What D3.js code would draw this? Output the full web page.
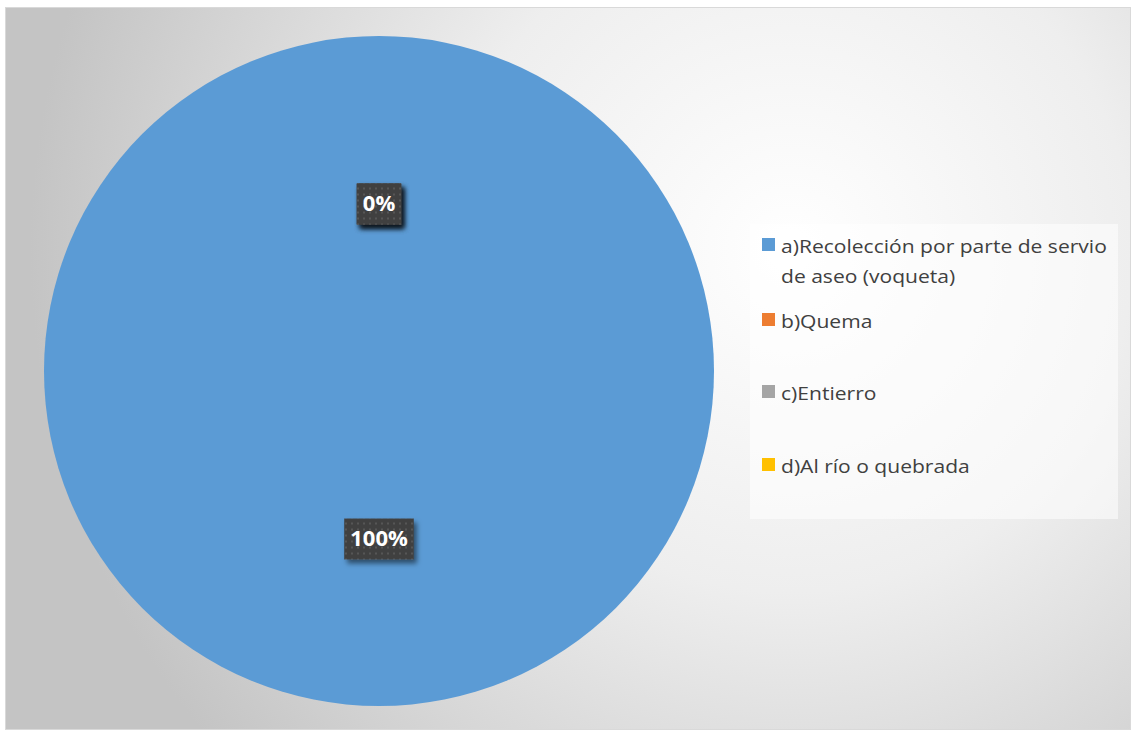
<!DOCTYPE html>
<html>
<head>
<meta charset="utf-8">
<script src="https://cdn.jsdelivr.net/npm/d3@7/dist/d3.min.js"></script>
<style>
  html, body { margin: 0; padding: 0; background: #fff; }
  svg { display: block; }
</style>
</head>
<body>
<svg id="chart" width="1133" height="732"></svg>
<script>
// data
var categories = ["a)Recolección por parte de servio de aseo (voqueta)", "b)Quema", "c)Entierro", "d)Al río o quebrada"]
var values = [100, 0, 0, 0]
var colors = ["#5b9bd5", "#ed7d31", "#a5a5a5", "#ffc000"]
// legend text broken in lines like the original
var legend_lines = [["a)Recolección por parte de servio", "de aseo (voqueta)"], ["b)Quema"], ["c)Entierro"], ["d)Al río o quebrada"]]

var svg = d3.select("#chart")
var defs = svg.append("defs")

// chart background: radial gray-white gradient
var bg = defs.append("radialGradient")
	.attr("id", "bg")
	.attr("gradientUnits", "userSpaceOnUse")
	.attr("cx", 790).attr("cy", 250).attr("r", 760)
bg.append("stop").attr("offset", "0").attr("stop-color", "#ffffff")
bg.append("stop").attr("offset", "0.45").attr("stop-color", "#eeeeee")
bg.append("stop").attr("offset", "1").attr("stop-color", "#c4c4c4")

// dotted texture used by the data label boxes
var pat = defs.append("pattern")
	.attr("id", "dots")
	.attr("patternUnits", "userSpaceOnUse")
	.attr("width", 6).attr("height", 6)
pat.append("rect").attr("width", 6).attr("height", 6).attr("fill", "#404040")
pat.append("rect").attr("x", 2).attr("y", 2).attr("width", 2).attr("height", 2).attr("fill", "#575757")

var shadow = defs.append("filter")
	.attr("id", "shadow")
	.attr("x", "-30%").attr("y", "-30%").attr("width", "160%").attr("height", "170%")
shadow.append("feDropShadow")
	.attr("dx", 3).attr("dy", 4).attr("stdDeviation", 2.5)
	.attr("flood-color", "#000").attr("flood-opacity", 0.5)

svg.append("rect")
	.attr("x", 5.5).attr("y", 7.5)
	.attr("width", 1125).attr("height", 722)
	.attr("fill", "url(#bg)")
	.attr("stroke", "#d9d9d9")
	.attr("stroke-width", 1)

var cx = 379, cy = 371, radius = 335

var pie = d3.pie().sort(null).value(function(d){ return d.value })
var arc = d3.arc().innerRadius(0).outerRadius(radius)

var data = categories.map(function(c, i){ return {label: c, value: values[i], color: colors[i]} })
var arcs = pie(data)

var chart = svg.append("g").attr("transform", "translate(" + cx + "," + cy + ")")

chart.selectAll(".slice")
	.data(arcs)
.enter().append("path")
	.classed("slice", true)
	.attr("d", arc)
	.attr("fill", function(d){ return d.data.color })

var total = d3.sum(values)

// data labels, drawn in reverse so the first one sits on top
var label_g = chart.selectAll(".lab")
	.data(arcs.slice().reverse())
.enter().append("g")
	.classed("lab", true)
	.attr("transform", function(d){
		var c = arc.centroid(d)
		return "translate(" + c[0] + "," + c[1] + ")"
	})

label_g.each(function(d){
	var g = d3.select(this)
	var txt = g.append("text")
		.attr("text-anchor", "middle")
		.attr("dy", "0.36em")
		.attr("font-family", "'Open Sans', 'Liberation Sans', sans-serif")
		.attr("font-weight", "bold")
		.attr("font-size", 22)
		.attr("fill", "#ffffff")
		.text(Math.round(d.data.value / total * 100) + "%")
	var w = txt.node().getComputedTextLength() + 12
	g.insert("rect", "text")
		.attr("x", -w/2).attr("y", -20)
		.attr("width", w).attr("height", 41)
		.attr("fill", "url(#dots)")
		.attr("filter", "url(#shadow)")
})

// legend
var legend = svg.append("g").attr("transform", "translate(750,224)")
legend.append("rect")
	.attr("width", 368).attr("height", 295)
	.attr("fill", "#ffffff").attr("fill-opacity", 0.55)

var item_y = [22, 97, 169, 242]
var item = legend.selectAll(".item")
	.data(data)
.enter().append("g")
	.classed("item", true)
	.attr("transform", function(d, i){ return "translate(12," + item_y[i] + ")" })

item.append("rect")
	.attr("x", 0).attr("y", -8)
	.attr("width", 13).attr("height", 13)
	.attr("fill", function(d){ return d.color })

var texts = item.append("g").attr("transform", "translate(19,0)")
	.append("text")
	.attr("font-family", "'Open Sans', 'Liberation Sans', sans-serif")
	.attr("font-size", 19)
	.attr("fill", "#404040")
	.each(function(d, i){
		var t = d3.select(this)
		legend_lines[i].forEach(function(line, k){
			t.append("tspan")
				.attr("x", 0)
				.attr("y", 7 + k * 30)
				.text(line)
		})
	})

// stretch the legend text so the longest line is as wide as the original
var first_w = texts.node().firstChild.getComputedTextLength()
var sx = 326 / first_w
texts.attr("transform", "scale(" + sx + ",1)")
</script>
</body>
</html>
